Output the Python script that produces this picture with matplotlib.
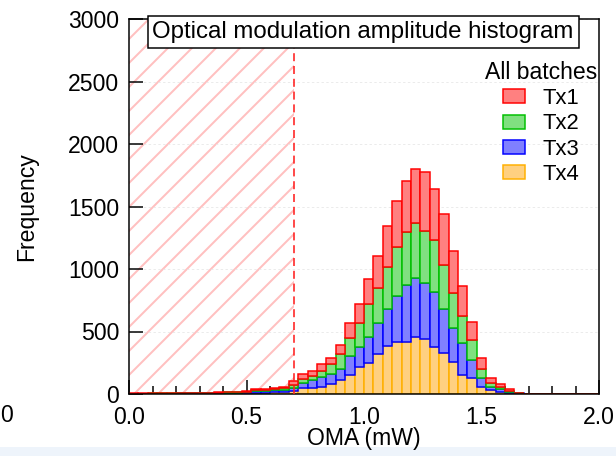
import numpy as np
import matplotlib
matplotlib.use("Agg")
import matplotlib.pyplot as plt
from matplotlib.patches import Patch, Rectangle

plt.rcParams['font.family'] = ['Liberation Sans', 'DejaVu Sans']
plt.rcParams['hatch.linewidth'] = 2.0

# histogram bins: 0.0 .. 2.0 mW, 0.04 mW wide
bin_edges = np.round(np.arange(0, 2.0001, 0.04), 2)

tx4 = [2, 1, 2, 2, 1, 2, 3, 2, 3, 3, 4, 4, 6,
       10, 12, 14, 16, 27, 45, 51, 59, 80, 112, 152, 213, 251, 320, 384, 418, 418,
       453, 440, 373, 325, 259, 152, 125, 59, 32, 19, 11, 3, 1,
       1, 0, 1, 0, 0, 0, 0]
tx3 = [1, 2, 1, 2, 2, 3, 2, 3, 3, 4, 5, 6, 8,
       16, 16, 18, 20, 24, 46, 61, 80, 80, 85, 152, 160, 208, 245, 293, 366, 454,
       478, 445, 446, 352, 266, 259, 147, 66, 21, 18, 8, 3, 1,
       1, 1, 0, 0, 0, 0, 0]
tx2 = [1, 1, 2, 1, 2, 2, 2, 3, 3, 3, 4, 5, 5,
       8, 8, 10, 12, 21, 32, 32, 48, 77, 120, 141, 192, 261, 286, 342, 389, 427,
       434, 419, 413, 355, 280, 216, 160, 75, 32, 22, 8, 2, 1,
       0, 1, 0, 0, 0, 0, 0]
tx1 = [1, 1, 1, 1, 2, 1, 2, 2, 2, 3, 3, 3, 4,
       6, 6, 8, 10, 35, 34, 40, 50, 54, 75, 120, 155, 197, 256, 328, 374, 405,
       432, 475, 405, 405, 342, 237, 141, 91, 40, 21, 10, 2, 1,
       1, 0, 0, 1, 0, 0, 0]

labels = ['Tx1', 'Tx2', 'Tx3', 'Tx4']
faces = {'Tx1': '#ff8080', 'Tx2': '#80e080', 'Tx3': '#8080ff', 'Tx4': '#ffd080'}
edges = {'Tx1': '#ff0000', 'Tx2': '#00c000', 'Tx3': '#0000ff', 'Tx4': '#ffb000'}
series = {'Tx1': tx1, 'Tx2': tx2, 'Tx3': tx3, 'Tx4': tx4}

oma_limit = 0.7

fig = plt.figure(figsize=(616 / 72, 456 / 72), dpi=72)
ax = fig.add_axes([129 / 616, 1 - 394 / 456, 470 / 616, 375 / 456])

# forbidden region below the OMA limit
ax.axvspan(0, oma_limit, facecolor='none', edgecolor='#ffc0c0', hatch='/', linewidth=0, zorder=0)
ax.axvline(oma_limit, color='#ff2020', linestyle=(0, (5, 3)), linewidth=1.6, zorder=4)

left = bin_edges[:-1]
width = np.diff(bin_edges)
bottom = np.zeros(len(left))
for name in ['Tx4', 'Tx3', 'Tx2', 'Tx1']:
    vals = np.array(series[name], dtype=float)
    ax.bar(left, vals, width=width, bottom=bottom, align='edge',
           facecolor=faces[name], edgecolor=edges[name], linewidth=1.5, zorder=2)
    bottom += vals

ax.set_xlim(0, 2.0)
ax.set_ylim(0, 3000)
ax.set_xticks([0, 0.5, 1.0, 1.5, 2.0])
ax.set_xticklabels(['0.0', '0.5', '1.0', '1.5', '2.0'])
ax.set_xticks(np.arange(0, 2.01, 0.1), minor=True)
ax.set_yticks(np.arange(0, 3001, 500))
ax.tick_params(axis='both', which='major', direction='in', length=14, width=1.5,
               labelsize=23, top=False, right=False)
ax.tick_params(axis='y', which='major', pad=10)
ax.tick_params(axis='x', which='major', pad=12)
ax.tick_params(axis='x', which='minor', direction='in', length=8, width=1.5, top=False)
ax.tick_params(axis='y', which='minor', left=False, right=False)
for s in ax.spines.values():
    s.set_linewidth(1.5)

ax.yaxis.grid(True, color='#e6e6e6', linestyle=(0, (3, 3)), linewidth=0.8)
ax.set_axisbelow(True)

ax.set_xlabel('OMA (mW)', fontsize=23, labelpad=-2)
ax.set_ylabel('Frequency', fontsize=23, labelpad=30)

ax.text(0.498, 0.966, 'Optical modulation amplitude histogram', transform=ax.transAxes,
        ha='center', va='center', fontsize=24, zorder=6,
        bbox=dict(boxstyle='square,pad=0.2', facecolor='white', edgecolor='black', linewidth=1.5))

handles = [Patch(facecolor=faces[n], edgecolor=edges[n], linewidth=1.5) for n in labels]
leg = ax.legend(handles, labels, title='All batches', loc='upper right',
                bbox_to_anchor=(0.996, 0.889), frameon=False, fontsize=22,
                title_fontsize=23, handlelength=1.0, handleheight=0.6,
                handletextpad=0.8, labelspacing=0.2,
                borderpad=0.0, borderaxespad=0.0)

# page background strip and clipped neighbour label
fig.patches.append(Rectangle((0, 0), 1, 9 / 456, transform=fig.transFigure,
                             facecolor='#eef4fb', edgecolor='none', zorder=-1))
fig.text(0 / 616, 1 - 416 / 456, '0', fontsize=23, va='center', ha='left')

fig.savefig('out.png', dpi=72)
